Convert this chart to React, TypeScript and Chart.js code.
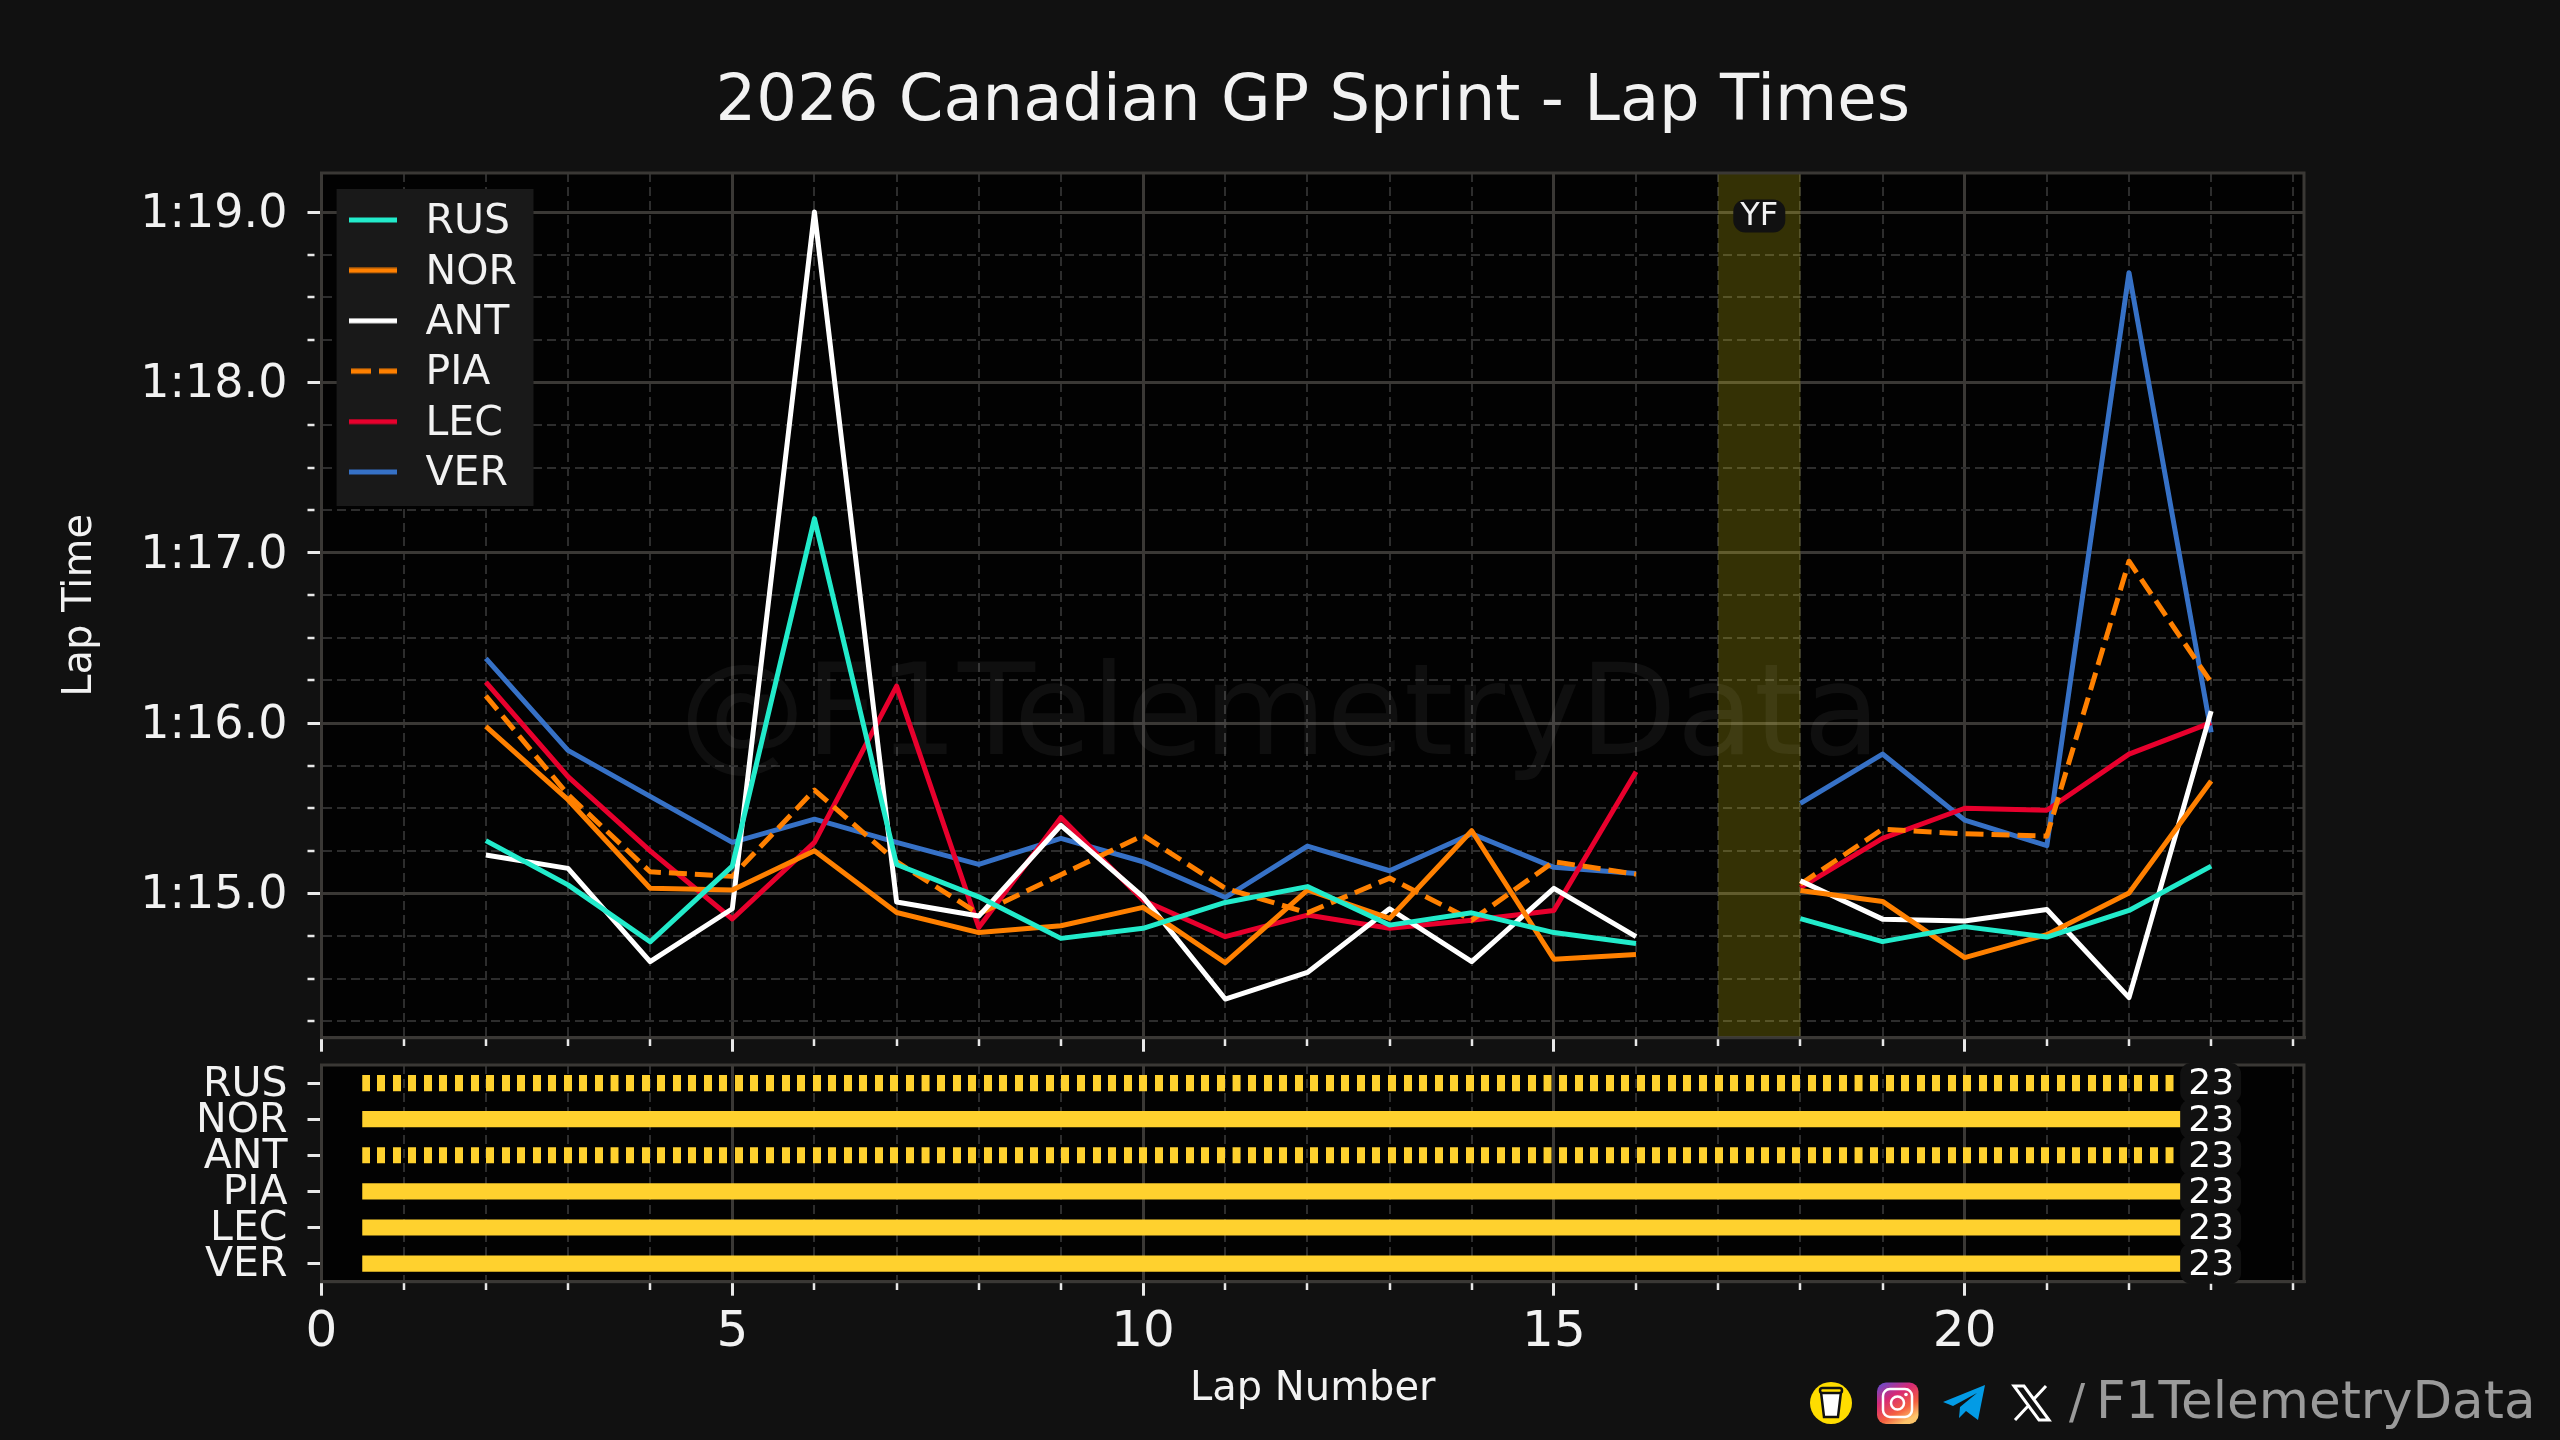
import React, { useEffect, useRef } from "react";
import { Chart, registerables } from "chart.js";

Chart.register(...registerables);

const FONT = '"DejaVu Sans"';
const BG = "#111111";
const TEXT = "#f2f2f2";
const MAJOR = "#3a3835";
const MINOR = "#2d2d2d";
const TICK = "#e8e8e8";

const TITLE = "2026 Canadian GP Sprint - Lap Times";
const WATERMARK = "@F1TelemetryData";
const laps = [2, 3, 4, 5, 6, 7, 8, 9, 10, 11, 12, 13, 14, 15, 16, 17, 18, 19, 20, 21, 22, 23];
const rus = [75.31, 75.05, 74.716, 75.16, 77.2, 75.17, 74.98, 74.736, 74.795, 74.947, 75.04, 74.814, 74.886, 74.77, 74.706, null, 74.852, 74.717, 74.805, 74.744, 74.9, 75.16];
const nor = [75.98, 75.55, 75.03, 75.02, 75.25, 74.888, 74.77, 74.81, 74.918, 74.593, 75.02, 74.853, 75.368, 74.614, 74.642, null, 75.017, 74.953, 74.623, 74.758, 75.003, 75.66];
const ant = [75.225, 75.147, 74.6, 74.91, 79.0, 74.95, 74.867, 75.4, 74.98, 74.38, 74.536, 74.91, 74.6, 75.03, 74.746, null, 75.074, 74.849, 74.838, 74.906, 74.388, 76.07];
const pia = [76.16, 75.58, 75.127, 75.1, 75.607, 75.186, 74.88, 75.11, 75.34, 75.03, 74.886, 75.09, 74.843, 75.186, 75.113, null, 75.054, 75.377, 75.35, 75.336, 76.95, 76.238];
const lec = [76.24, 75.685, 75.25, 74.85, 75.3, 76.217, 74.8, 75.446, 74.96, 74.746, 74.873, 74.795, 74.843, 74.9, 75.714, null, 75.034, 75.323, 75.5, 75.488, 75.818, 76.003];
const ver = [76.38, 75.84, 75.57, 75.3, 75.436, 75.3, 75.17, 75.323, 75.186, 74.976, 75.278, 75.133, 75.35, 75.153, 75.117, null, 75.528, 75.818, 75.43, 75.28, 78.644, 75.945];
const drivers = ["RUS", "NOR", "ANT", "PIA", "LEC", "VER"];
const driverSeries = [rus, nor, ant, pia, lec, ver];
const driverColors = ["#22EBCB", "#FF8000", "#FFFFFF", "#FF8000", "#E8002D", "#3671C6"];
const driverDash = [[], [], [], [18, 8], [], []];
const stintStart = 0.5;
const stintEnd = [23, 23, 23, 23, 23, 23];
const stintHatched = [true, false, true, false, false, false];
const stintColor = "#FFD12E";
const stintLabel = 23;
const yfStart = 17;
const yfEnd = 18;
const yfLabel = "YF";
const yfLabelValue = 78.98;
const X_MIN = 0;
const X_MAX = 24.13;
const Y_MIN = 74.153;
const Y_MAX = 79.229;

const isInt = (v: number) => Math.abs(v - Math.round(v)) < 1e-6;
const fmtLap = (v: number) => {
  const m = Math.floor(v / 60);
  const s = (v - m * 60).toFixed(1);
  return `${m}:${s.padStart(4, "0")}`;
};

function makeHandle(color: string, dash: number[]) {
  const c = document.createElement("canvas");
  c.width = 56;
  c.height = 11;
  const g = c.getContext("2d")!;
  g.strokeStyle = color;
  g.lineWidth = 5;
  g.setLineDash(dash.length ? [20, 8] : []);
  if (dash.length) g.lineDashOffset = -2;
  g.beginPath();
  g.moveTo(0, 3);
  g.lineTo(48, 3);
  g.stroke();
  return c;
}

function makeHatch() {
  const tile = document.createElement("canvas");
  tile.width = 311;
  tile.height = 4;
  const g = tile.getContext("2d")!;
  g.fillStyle = stintColor;
  g.fillRect(0, 0, 160, 4);
  const p = document.createElement("canvas").getContext("2d")!.createPattern(tile, "repeat")!;
  p.setTransform(new DOMMatrix().translate(361.7, 0).scale(0.05, 1));
  return p;
}

const frame = (ctx: CanvasRenderingContext2D, a: any) => {
  ctx.save();
  ctx.strokeStyle = MAJOR;
  ctx.lineWidth = 3;
  ctx.strokeRect(a.left, a.top, a.width, a.height);
  ctx.restore();
};

const plotBg = {
  id: "plotBg",
  beforeDraw(chart: any) {
    const { ctx, chartArea: a } = chart;
    ctx.save();
    ctx.fillStyle = "#020202";
    ctx.fillRect(a.left, a.top, a.width, a.height);
    ctx.restore();
  },
};

const topDecor = {
  id: "topDecor",
  afterLayout(chart: any) {
    chart.legend.left = 349 - 9.4;
    chart.legend.top = 192.6;
  },
  beforeDatasetsDraw(chart: any) {
    const { ctx, chartArea: a, scales } = chart;
    ctx.save();
    const x0 = scales.x.getPixelForValue(yfStart);
    const x1 = scales.x.getPixelForValue(yfEnd);
    ctx.fillStyle = "rgba(255,240,20,0.2)";
    ctx.fillRect(x0, a.top, x1 - x0, a.height);
    ctx.fillStyle = "rgba(255,255,255,0.055)";
    ctx.font = `126px ${FONT}`;
    ctx.textAlign = "center";
    ctx.textBaseline = "middle";
    ctx.fillText(WATERMARK, 1280, 721);
    ctx.restore();
    frame(ctx, a);
    ctx.save();
    ctx.fillStyle = "#191919";
    ctx.fillRect(336.6, 189, 196.9, 317);
    ctx.restore();
    chart.legend.draw();
  },
  afterDatasetsDraw(chart: any) {
    const { ctx, scales } = chart;
    const x = scales.x.getPixelForValue((yfStart + yfEnd) / 2);
    const y = scales.y.getPixelForValue(yfLabelValue);
    ctx.save();
    ctx.fillStyle = "#111111";
    ctx.beginPath();
    ctx.roundRect(x - 26, y - 16, 52, 33, 12);
    ctx.fill();
    ctx.fillStyle = TEXT;
    ctx.font = `32px ${FONT}`;
    ctx.textAlign = "center";
    ctx.textBaseline = "middle";
    ctx.fillText(yfLabel, x, y + 1);
    ctx.restore();
  },
};

const bottomDecor = {
  id: "bottomDecor",
  beforeDatasetsDraw(chart: any) {
    frame(chart.ctx, chart.chartArea);
  },
  afterDatasetsDraw(chart: any) {
    const { ctx, scales } = chart;
    const x = scales.x.getPixelForValue(stintLabel);
    ctx.save();
    drivers.forEach((d) => {
      const y = scales.y.getPixelForValue(d);
      ctx.fillStyle = BG;
      ctx.beginPath();
      ctx.roundRect(x - 31, y - 20, 61, 40, 11);
      ctx.fill();
    });
    ctx.fillStyle = "#ffffff";
    ctx.font = `36px ${FONT}`;
    ctx.textAlign = "center";
    ctx.textBaseline = "middle";
    drivers.forEach((d) => {
      ctx.fillText(String(stintLabel), x, scales.y.getPixelForValue(d) + 2);
    });
    ctx.restore();
  },
};

const gridOpts = (isMajor: (v: number) => boolean) => ({
  color: (c: any) => (c.tick && isMajor(c.tick.value) ? MAJOR : MINOR),
  lineWidth: (c: any) => (c.tick && isMajor(c.tick.value) ? 3 : 2),
  tickColor: TICK,
  tickWidth: (c: any) => (c.tick && isMajor(c.tick.value) ? 3 : 2.5),
  tickLength: 14,
  tickBorderDash: (c: any) => (c.tick && isMajor(c.tick.value) ? [] : [7, 100]),
});
const borderOpts = (isMajor: (v: number) => boolean) => ({
  display: true,
  color: MAJOR,
  width: 3,
  dash: (c: any) => (c.tick && isMajor(c.tick.value) ? [] : [9, 5]),
});
const major5 = (v: number) => isInt(v) && Math.round(v) % 5 === 0;

export default function App() {
  const topRef = useRef<HTMLCanvasElement>(null);
  const botRef = useRef<HTMLCanvasElement>(null);

  useEffect(() => {
    document.body.style.margin = "0";
    document.body.style.background = BG;

    const top = new Chart(topRef.current!, {
      type: "line",
      data: {
        datasets: drivers.map((d, i) => ({
          label: d,
          data: driverSeries[i].map((y, k) => ({ x: laps[k], y })),
          borderColor: driverColors[i],
          borderWidth: 5,
          borderDash: driverDash[i],
          borderJoinStyle: "round",
          pointRadius: 0,
          tension: 0,
          spanGaps: false,
          fill: false,
        })),
      } as any,
      options: {
        responsive: false,
        animation: false,
        devicePixelRatio: 1,
        layout: { padding: { left: 0, top: 0, right: 256, bottom: 0 } },
        plugins: {
          title: {
            display: true,
            text: TITLE,
            color: TEXT,
            fullSize: false,
            font: { family: FONT, size: 64, weight: "normal", lineHeight: 1.2 },
            padding: { top: 65, bottom: 31.2 },
          },
          legend: {
            display: true,
            position: "chartArea",
            align: "start",
            labels: {
              usePointStyle: true,
              pointStyleWidth: 56,
              padding: 9.4,
              color: TEXT,
              font: { family: FONT, size: 41 },
              generateLabels: () =>
                drivers.map((d, i) => ({
                  text: d,
                  fontColor: TEXT,
                  hidden: false,
                  lineWidth: 0,
                  strokeStyle: driverColors[i],
                  fillStyle: driverColors[i],
                  pointStyle: makeHandle(driverColors[i], driverDash[i]),
                  datasetIndex: i,
                })),
            },
          },
          tooltip: { enabled: false },
        },
        scales: {
          x: {
            type: "linear",
            min: X_MIN,
            max: X_MAX,
            afterFit: (s: any) => {
              s.height = 1440 - 1037.7;
            },
            ticks: { stepSize: 1, autoSkip: false, includeBounds: false, display: false },
            grid: gridOpts(major5),
            border: borderOpts(major5),
          },
          y: {
            type: "linear",
            min: Y_MIN,
            max: Y_MAX,
            afterFit: (s: any) => {
              s.width = 321.5;
            },
            title: {
              display: true,
              text: "Lap Time",
              color: TEXT,
              font: { family: FONT, size: 40 },
              padding: { top: 57, bottom: 0 },
            },
            ticks: {
              stepSize: 0.25,
              autoSkip: false,
              includeBounds: false,
              padding: 20,
              labelOffset: 3,
              color: TEXT,
              font: { family: FONT, size: 46 },
              callback: (v: any) => (isInt(v) && v > 74.5 ? fmtLap(v) : ""),
            },
            grid: gridOpts(isInt),
            border: borderOpts(isInt),
          },
        },
      } as any,
      plugins: [plotBg, topDecor],
    });

    const hatch = makeHatch();
    const bot = new Chart(botRef.current!, {
      type: "bar",
      data: {
        labels: drivers,
        datasets: [
          {
            data: drivers.map((_, i) => [stintStart, stintEnd[i]]),
            backgroundColor: drivers.map((_, i) => (stintHatched[i] ? hatch : stintColor)),
            barThickness: 15.5,
            borderWidth: 0,
          },
        ],
      } as any,
      options: {
        indexAxis: "y",
        responsive: false,
        animation: false,
        devicePixelRatio: 1,
        layout: { padding: { left: 0, top: 1065, right: 256, bottom: 0 } },
        plugins: { legend: { display: false }, title: { display: false }, tooltip: { enabled: false } },
        scales: {
          x: {
            type: "linear",
            min: X_MIN,
            max: X_MAX,
            afterFit: (s: any) => {
              s.height = 1440 - 1281.7;
            },
            title: {
              display: true,
              text: "Lap Number",
              color: TEXT,
              font: { family: FONT, size: 40 },
              padding: { top: 0, bottom: 26.6 },
            },
            ticks: {
              stepSize: 1,
              autoSkip: false,
              includeBounds: false,
              maxRotation: 0,
              padding: 7,
              color: TEXT,
              font: { family: FONT, size: 50 },
              callback: (v: any) => (major5(v) ? String(v) : ""),
            },
            grid: gridOpts(major5),
            border: borderOpts(major5),
          },
          y: {
            type: "category",
            offset: true,
            afterFit: (s: any) => {
              s.width = 321.5;
            },
            ticks: {
              autoSkip: false,
              padding: 20,
              labelOffset: 2,
              color: TEXT,
              font: { family: FONT, size: 41 },
            },
            grid: {
              offset: false,
              drawOnChartArea: false,
              tickColor: TICK,
              tickWidth: 3,
              tickLength: 14,
            },
            border: { display: true, color: MAJOR, width: 3 },
          },
        },
      } as any,
      plugins: [plotBg, bottomDecor],
    });

    return () => {
      top.destroy();
      bot.destroy();
    };
  }, []);

  const abs: React.CSSProperties = { position: "absolute", left: 0, top: 0 };
  return (
    <div style={{ ...abs, width: 2560, height: 1440, background: BG, overflow: "hidden" }}>
      <canvas ref={topRef} width={2560} height={1440} style={{ ...abs, display: "block" }} />
      <canvas ref={botRef} width={2560} height={1440} style={{ ...abs, display: "block" }} />
      <svg width={2560} height={1440} style={abs}>
        <defs>
          <linearGradient id="ig" x1="0" y1="0" x2="0.6" y2="1">
            <stop offset="0" stopColor="#5b51d8" />
            <stop offset="0.4" stopColor="#d62976" />
            <stop offset="0.75" stopColor="#f56040" />
            <stop offset="1" stopColor="#fcc46a" />
          </linearGradient>
        </defs>
        <circle cx={1831} cy={1403} r={21} fill="#FFDD00" />
        <path d="M1821 1392h20l-3 25h-14z" fill="#fff" stroke="#111" strokeWidth={2.5} />
        <rect x={1820} y={1388} width={22} height={5} rx={2.5} fill="#FFDD00" stroke="#111" strokeWidth={2.5} />
        <rect x={1877} y={1382.5} width={41.5} height={41.5} rx={9} fill="url(#ig)" />
        <rect x={1883} y={1389} width={29} height={28} rx={7} fill="none" stroke="#fff" strokeWidth={2.5} />
        <circle cx={1897.5} cy={1403} r={6.5} fill="none" stroke="#fff" strokeWidth={2.5} />
        <circle cx={1906} cy={1394.5} r={1.8} fill="#fff" />
        <path d="M1943 1402 L1985 1385 L1978 1420 L1966 1411 L1959 1418 L1960 1407 L1977 1393 L1953 1406 Z" fill="#039BE5" />
        <path d="M2014 1386h10l25 34h-10z M2046 1386l-13 14 M2015 1420l14-15" fill="none" stroke="#fff" strokeWidth={3} />
        <text x={2069} y={1418} fontFamily={FONT} fontSize={48} fill="#9a9a9a">/</text>
        <text x={2096} y={1418} fontFamily={FONT} fontSize={51.5} fill="#9a9a9a">F1TelemetryData</text>
      </svg>
    </div>
  );
}
